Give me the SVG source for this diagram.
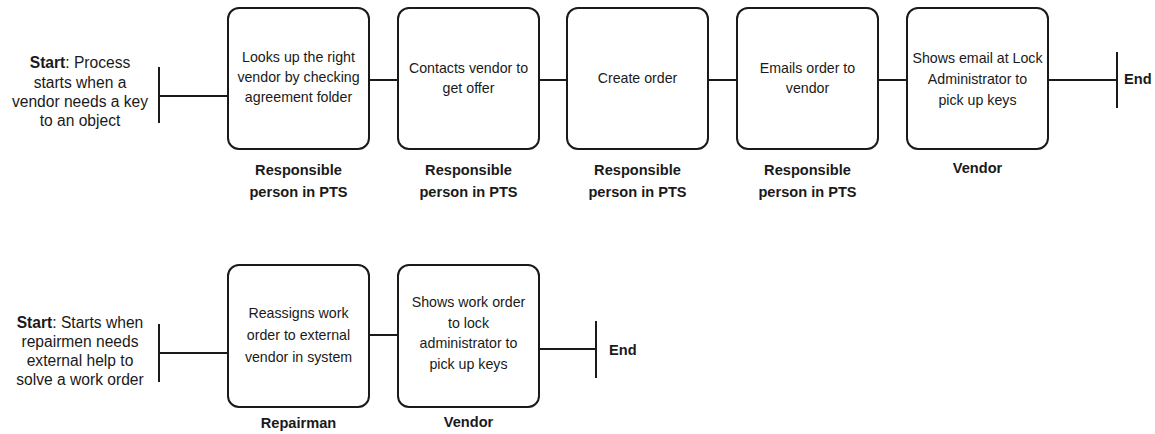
<svg xmlns="http://www.w3.org/2000/svg" width="1155" height="434" viewBox="0 0 1155 434">
  <style>
    .box { fill: #ffffff; stroke: #1a1a1a; stroke-width: 2; }
    .line { stroke: #1a1a1a; stroke-width: 2; fill: none; }
    .txt { font-family: "Liberation Sans", Arial, sans-serif; font-size: 14.2px; fill: #1a1a1a; text-anchor: middle; }
    .start { font-family: "Liberation Sans", Arial, sans-serif; font-size: 15.6px; fill: #1a1a1a; text-anchor: middle; }
    .role { font-family: "Liberation Sans", Arial, sans-serif; font-size: 14.6px; font-weight: bold; fill: #1a1a1a; text-anchor: middle; }
    .end { font-family: "Liberation Sans", Arial, sans-serif; font-size: 14.6px; font-weight: bold; fill: #1a1a1a; }
  </style>
  <rect width="1155" height="434" fill="#ffffff"/>

  <!-- connectors -->
  <g id="connectors">
    <!-- process 1 -->
    <line class="line" x1="159" y1="67" x2="159" y2="123"/>
    <line class="line" x1="159" y1="96" x2="228" y2="96"/>
    <line class="line" x1="369" y1="80" x2="398" y2="80"/>
    <line class="line" x1="539" y1="80" x2="567" y2="80"/>
    <line class="line" x1="708" y1="80" x2="737" y2="80"/>
    <line class="line" x1="878" y1="80" x2="907" y2="80"/>
    <line class="line" x1="1048" y1="80" x2="1117" y2="80"/>
    <line class="line" x1="1117" y1="52" x2="1117" y2="108"/>
    <!-- process 2 -->
    <line class="line" x1="159" y1="324" x2="159" y2="382"/>
    <line class="line" x1="159" y1="353" x2="228" y2="353"/>
    <line class="line" x1="369" y1="335" x2="398" y2="335"/>
    <line class="line" x1="539" y1="349" x2="596" y2="349"/>
    <line class="line" x1="596" y1="321" x2="596" y2="378"/>
  </g>

  <!-- process 1 -->
  <g id="start1">
    <text class="start" x="80" y="68"><tspan font-weight="bold">Start</tspan>: Process</text>
    <text class="start" x="80" y="88">starts when a</text>
    <text class="start" x="80" y="107">vendor needs a key</text>
    <text class="start" x="80" y="126">to an object</text>
  </g>

  <g id="lookup">
    <rect class="box" x="228" y="8" width="141" height="141" rx="11"/>
    <text class="txt" x="298.5" y="62">Looks up the right</text>
    <text class="txt" x="298.5" y="82">vendor by checking</text>
    <text class="txt" x="298.5" y="102">agreement folder</text>
    <text class="role" x="298.5" y="175">Responsible</text>
    <text class="role" x="298.5" y="197">person in PTS</text>
  </g>

  <g id="contact">
    <rect class="box" x="398" y="8" width="141" height="141" rx="11"/>
    <text class="txt" x="468.5" y="73">Contacts vendor to</text>
    <text class="txt" x="468.5" y="93">get offer</text>
    <text class="role" x="468.5" y="175">Responsible</text>
    <text class="role" x="468.5" y="197">person in PTS</text>
  </g>

  <g id="create">
    <rect class="box" x="567" y="8" width="141" height="141" rx="11"/>
    <text class="txt" x="637.5" y="83">Create order</text>
    <text class="role" x="637.5" y="175">Responsible</text>
    <text class="role" x="637.5" y="197">person in PTS</text>
  </g>

  <g id="email">
    <rect class="box" x="737" y="8" width="141" height="141" rx="11"/>
    <text class="txt" x="807.5" y="73">Emails order to</text>
    <text class="txt" x="807.5" y="93">vendor</text>
    <text class="role" x="807.5" y="175">Responsible</text>
    <text class="role" x="807.5" y="197">person in PTS</text>
  </g>

  <g id="show1">
    <rect class="box" x="907" y="8" width="141" height="141" rx="11"/>
    <text class="txt" x="977.5" y="63">Shows email at Lock</text>
    <text class="txt" x="977.5" y="84">Administrator to</text>
    <text class="txt" x="977.5" y="105">pick up keys</text>
    <text class="role" x="977.5" y="173">Vendor</text>
  </g>

  <g id="end1">
    <text class="end" x="1124" y="84">End</text>
  </g>

  <!-- process 2 -->
  <g id="start2">
    <text class="start" x="80" y="328"><tspan font-weight="bold">Start</tspan>: Starts when</text>
    <text class="start" x="80" y="347">repairmen needs</text>
    <text class="start" x="80" y="366">external help to</text>
    <text class="start" x="80" y="385">solve a work order</text>
  </g>

  <g id="reassign">
    <rect class="box" x="228" y="265" width="141" height="142" rx="11"/>
    <text class="txt" x="298.5" y="318">Reassigns work</text>
    <text class="txt" x="298.5" y="340">order to external</text>
    <text class="txt" x="298.5" y="362">vendor in system</text>
    <text class="role" x="298.5" y="428">Repairman</text>
  </g>

  <g id="show2">
    <rect class="box" x="398" y="265" width="141" height="142" rx="11"/>
    <text class="txt" x="468.5" y="307">Shows work order</text>
    <text class="txt" x="468.5" y="328">to lock</text>
    <text class="txt" x="468.5" y="348">administrator to</text>
    <text class="txt" x="468.5" y="369">pick up keys</text>
    <text class="role" x="468.5" y="427">Vendor</text>
  </g>

  <g id="end2">
    <text class="end" x="609" y="355">End</text>
  </g>
</svg>
